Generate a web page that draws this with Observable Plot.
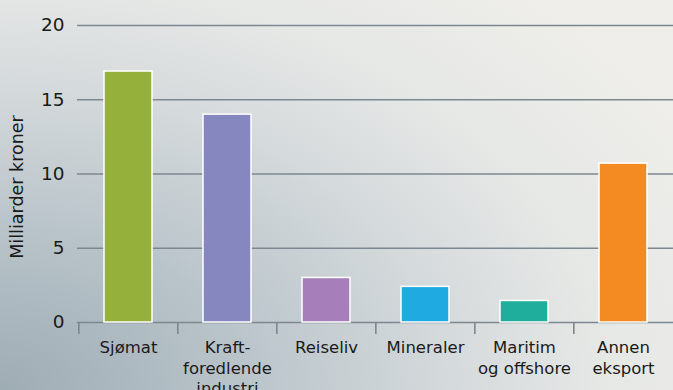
<!DOCTYPE html>
<html><head><meta charset="utf-8">
<script src="https://cdn.jsdelivr.net/npm/d3@7"></script>
<script src="https://cdn.jsdelivr.net/npm/@observablehq/plot@0.6"></script>
<style>
html,body{margin:0;padding:0;}
body{width:673px;height:390px;overflow:hidden;
background: radial-gradient(ellipse 120% 140% at 0% 100%, #9eacb4 0%, #b9c4ca 30%, #d4d9db 55%, #e6e8e6 75%, #efeeea 100%);}
#chart svg{display:block;}
</style></head><body><div id="chart"></div>
<script>
const categories = ["Sjømat", "Kraft-\nforedlende\nindustri", "Reiseliv", "Mineraler", "Maritim\nog offshore", "Annen\neksport"];
const values = [16.9, 14.0, 3.0, 2.4, 1.45, 10.7];
const colors = ["#95b03b", "#8787c0", "#a67fba", "#1faae1", "#1fae9b", "#f48a22"];
const yTicks = [0, 5, 10, 15, 20];
const yLabel = "Milliarder kroner";

const data = categories.map((c, i) => ({category: c, value: values[i], color: colors[i]}));
const W = 673, H = 390, mL = 77, mR = 0;
const step = (W - mL - mR) / categories.length;
const gridColor = "#7d878f";

const chart = Plot.plot({
  width: W, height: H,
  marginLeft: mL, marginRight: mR, marginTop: 25, marginBottom: 68,
  style: {background: "transparent", fontFamily: "'DejaVu Sans', sans-serif", fontSize: "16px", color: "#1a1a1a", overflow: "visible"},
  x: {domain: categories, paddingInner: 0.52, paddingOuter: 0.26, axis: null},
  y: {domain: [0, 20], axis: null},
  color: {type: "identity"},
  marks: [
    Plot.gridY(yTicks, {stroke: gridColor, strokeOpacity: 1, strokeWidth: 1.6}),
    Plot.barY(data, {x: "category", y: "value", fill: d => d.color, stroke: "white", strokeWidth: 1.5}),
    Plot.axisX({tickSize: 12, tickFormat: () => "", dx: -step / 2, stroke: gridColor, strokeWidth: 1.6, label: null}),
    Plot.axisX({tickSize: 0, tickPadding: 16, fontSize: 16.5, lineHeight: 1.25, label: null, fill: "#1a1a1a"}),
    Plot.axisY(yTicks, {tickSize: 0, tickPadding: 13, fontSize: 18.5, label: null, fill: "#1a1a1a"}),
    Plot.text([yLabel], {frameAnchor: "left", textAnchor: "middle", rotate: -90, dx: -60, dy: 13, fontSize: 17.5, fill: "#1a1a1a"})
  ]
});
document.getElementById("chart").append(chart);
</script>
</body></html>
